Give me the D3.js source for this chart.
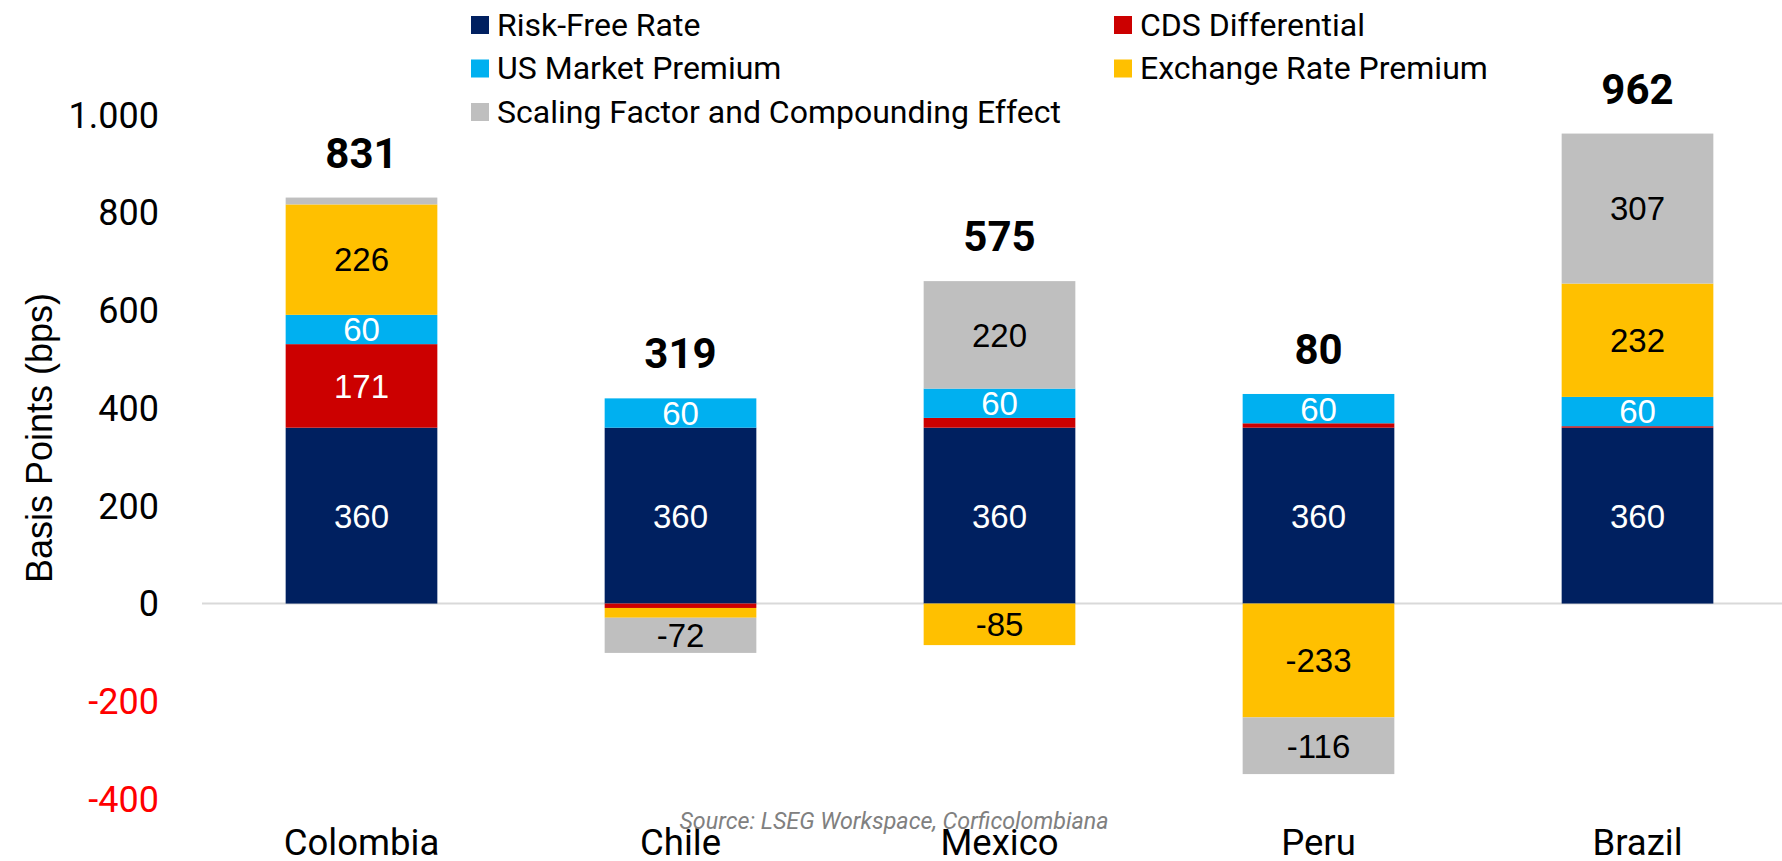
<!DOCTYPE html>
<html>
<head>
<meta charset="utf-8">
<script src="https://cdn.jsdelivr.net/npm/d3@7"></script>
<style>
  html, body { margin: 0; padding: 0; background: #ffffff; }
  svg { display: block; }
</style>
</head>
<body>
<svg id="chart" width="1782" height="861"></svg>
<script>
// ---------------- DATA ----------------
const categories = ["Colombia", "Chile", "Mexico", "Peru", "Brazil"];
const seriesNames = ["Risk-Free Rate", "CDS Differential", "US Market Premium", "Exchange Rate Premium", "Scaling Factor and Compounding Effect"];
const riskFree     = [360, 360, 360, 360, 360];
const cdsDiff      = [171,  -9,  20,   9,   3];
const usMarket     = [ 60,  60,  60,  60,  60];
const exchangeRate = [226, -20, -85, -233, 232];
const scaling      = [ 14, -72, 220, -116, 307];
const totals       = [831, 319, 575,  80, 962];
const yTicks       = [-400, -200, 0, 200, 400, 600, 800, 1000];
const yTitle = "Basis Points (bps)";
const sourceNote = "Source: LSEG Workspace, Corficolombiana";

// ---------------- STYLE ----------------
const colors = ["#002060", "#CC0000", "#00B0F0", "#FFC000", "#BFBFBF"];
const labelColors = ["#ffffff", "#ffffff", "#ffffff", "#000000", "#000000"];

const seriesValues = [riskFree, cdsDiff, usMarket, exchangeRate, scaling];
const table = categories.map((c, i) => {
  const row = { category: c };
  seriesNames.forEach((s, k) => { row[s] = seriesValues[k][i]; });
  return row;
});

const svg = d3.select("#chart");

const x = d3.scaleBand()
  .domain(categories)
  .range([202, 1797])
  .paddingInner(0.5245)
  .paddingOuter(0.26225);

const y = d3.scaleLinear().domain([-400, 1000]).range([799, 115]);

const locale = d3.formatLocale({ decimal: ",", thousands: ".", grouping: [3], currency: ["", ""], minus: "-" });
const fmt = locale.format(",d");

const stacked = d3.stack().keys(seriesNames).offset(d3.stackOffsetDiverging)(table);

// zero line
svg.append("line")
  .attr("x1", 202).attr("x2", 1782)
  .attr("y1", y(0)).attr("y2", y(0))
  .attr("stroke", "#D9D9D9").attr("stroke-width", 2);

// bars
const layers = svg.append("g").selectAll("g")
  .data(stacked).join("g")
  .attr("fill", (d, i) => colors[i]);

layers.selectAll("rect")
  .data(d => d.map(v => ({ v, key: d.key })))
  .join("rect")
  .attr("x", d => x(d.v.data.category))
  .attr("width", x.bandwidth())
  .attr("y", d => y(Math.max(d.v[0], d.v[1])))
  .attr("height", d => Math.abs(y(d.v[0]) - y(d.v[1])));

// value labels
stacked.forEach((layer, k) => {
  svg.append("g").selectAll("text")
    .data(layer.filter(v => Math.abs(v.data[layer.key]) >= 30))
    .join("text")
    .attr("x", v => x(v.data.category) + x.bandwidth() / 2)
    .attr("y", v => y((v[0] + v[1]) / 2))
    .attr("dy", "0.36em")
    .attr("text-anchor", "middle")
    .attr("font-family", "'Liberation Sans', Arial, sans-serif")
    .attr("font-size", 33)
    .attr("fill", labelColors[k])
    .text(v => fmt(v.data[layer.key]));
});

// totals
const topOf = categories.map((c, i) => d3.sum(seriesValues, s => Math.max(0, s[i])));
svg.append("g").selectAll("text")
  .data(categories).join("text")
  .attr("x", c => x(c) + x.bandwidth() / 2)
  .attr("y", (c, i) => y(topOf[i]) - 30)
  .attr("text-anchor", "middle")
  .attr("font-family", "Roboto, sans-serif")
  .attr("font-weight", "bold")
  .attr("font-size", 42)
  .attr("fill", "#000")
  .text((c, i) => fmt(totals[i]));

// y axis tick labels
svg.append("g").selectAll("text")
  .data(yTicks).join("text")
  .attr("x", 159)
  .attr("y", d => y(d))
  .attr("dy", "0.355em")
  .attr("text-anchor", "end")
  .attr("font-family", "Roboto, sans-serif")
  .attr("font-size", 36)
  .attr("fill", d => d < 0 ? "#FF0000" : "#000")
  .text(d => fmt(d));

// y title
svg.append("text")
  .attr("transform", "translate(52,438) rotate(-90)")
  .attr("text-anchor", "middle")
  .attr("font-family", "'Liberation Sans', Arial, sans-serif")
  .attr("font-size", 36)
  .attr("fill", "#000")
  .text(yTitle);

// category labels
svg.append("g").selectAll("text")
  .data(categories).join("text")
  .attr("x", c => x(c) + x.bandwidth() / 2)
  .attr("y", 855)
  .attr("text-anchor", "middle")
  .attr("font-family", "Roboto, sans-serif")
  .attr("font-size", 36.5)
  .attr("fill", "#000")
  .text(c => c);

// source
svg.append("text")
  .attr("x", 894).attr("y", 829)
  .attr("text-anchor", "middle")
  .attr("font-family", "Roboto, sans-serif")
  .attr("font-style", "italic")
  .attr("font-size", 23.3)
  .attr("fill", "#808080")
  .text(sourceNote);

// legend
const legend = svg.append("g").selectAll("g")
  .data(seriesNames).join("g")
  .attr("transform", (d, i) => `translate(${i % 2 === 0 ? 471 : 1114},${16 + Math.floor(i / 2) * 43.5})`);
legend.append("rect")
  .attr("width", 18).attr("height", 18)
  .attr("fill", (d, i) => colors[i]);
legend.append("text")
  .attr("x", 26).attr("y", 19.5)
  .attr("font-family", "Roboto, sans-serif")
  .attr("font-size", 32)
  .attr("fill", "#000")
  .text(d => d);
</script>
</body>
</html>
